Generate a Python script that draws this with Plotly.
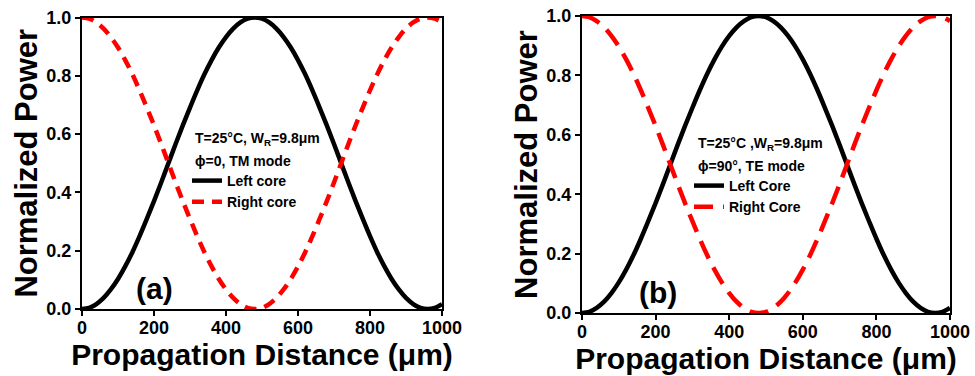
import plotly.graph_objects as go

# Propagation distance (um)
distance = [0, 20, 40, 60, 80, 100, 120, 140, 160, 180, 200, 220, 240, 260, 280, 300,
            320, 340, 360, 380, 400, 420, 440, 460, 480, 500, 520, 540, 560, 580, 600,
            620, 640, 660, 680, 700, 720, 740, 760, 780, 800, 820, 840, 860, 880, 900,
            920, 940, 960, 980, 1000]

# Panel (a): TM mode
left_a = [0.0, 0.004, 0.017, 0.038, 0.067, 0.103, 0.146, 0.195, 0.25, 0.309, 0.37, 0.434,
          0.5, 0.566, 0.63, 0.691, 0.75, 0.805, 0.854, 0.897, 0.933, 0.962, 0.983, 0.996,
          1.0, 0.996, 0.983, 0.962, 0.933, 0.897, 0.854, 0.805, 0.75, 0.691, 0.63, 0.566,
          0.5, 0.434, 0.37, 0.309, 0.25, 0.195, 0.146, 0.103, 0.067, 0.038, 0.017, 0.004,
          0.0, 0.004, 0.017]
right_a = [1.0, 0.996, 0.983, 0.962, 0.933, 0.897, 0.854, 0.805, 0.75, 0.691, 0.63, 0.566,
           0.5, 0.434, 0.37, 0.309, 0.25, 0.195, 0.146, 0.103, 0.067, 0.038, 0.017, 0.004,
           0.0, 0.004, 0.017, 0.038, 0.067, 0.103, 0.146, 0.195, 0.25, 0.309, 0.37, 0.434,
           0.5, 0.566, 0.63, 0.691, 0.75, 0.805, 0.854, 0.897, 0.933, 0.962, 0.983, 0.996,
           1.0, 0.996, 0.983]

# Panel (b): TE mode
left_b = [0.0, 0.004, 0.017, 0.038, 0.067, 0.103, 0.146, 0.195, 0.25, 0.309, 0.37, 0.434,
          0.5, 0.566, 0.63, 0.691, 0.75, 0.805, 0.854, 0.897, 0.933, 0.962, 0.983, 0.996,
          1.0, 0.996, 0.983, 0.962, 0.933, 0.897, 0.854, 0.805, 0.75, 0.691, 0.63, 0.566,
          0.5, 0.434, 0.37, 0.309, 0.25, 0.195, 0.146, 0.103, 0.067, 0.038, 0.017, 0.004,
          0.0, 0.004, 0.017]
right_b = [1.0, 0.996, 0.983, 0.962, 0.933, 0.897, 0.854, 0.805, 0.75, 0.691, 0.63, 0.566,
           0.5, 0.434, 0.37, 0.309, 0.25, 0.195, 0.146, 0.103, 0.067, 0.038, 0.017, 0.004,
           0.0, 0.004, 0.017, 0.038, 0.067, 0.103, 0.146, 0.195, 0.25, 0.309, 0.37, 0.434,
           0.5, 0.566, 0.63, 0.691, 0.75, 0.805, 0.854, 0.897, 0.933, 0.962, 0.983, 0.996,
           1.0, 0.996, 0.983]

x_ticks = [0, 200, 400, 600, 800, 1000]
y_ticks = [0.0, 0.2, 0.4, 0.6, 0.8, 1.0]

FONT = "Liberation Sans, Arial, sans-serif"
W, H = 975, 376

fig = go.Figure()

fig.add_trace(go.Scatter(x=distance, y=left_a, mode="lines", name="Left core",
                         line=dict(color="black", width=4.5, shape="spline"),
                         xaxis="x", yaxis="y", legend="legend"))
fig.add_trace(go.Scatter(x=distance, y=right_a, mode="lines", name="Right core",
                         line=dict(color="#ff0000", width=4.5, shape="spline", dash="12px,8px"),
                         xaxis="x", yaxis="y", legend="legend"))
fig.add_trace(go.Scatter(x=distance, y=left_b, mode="lines", name="Left Core",
                         line=dict(color="black", width=4.5, shape="spline"),
                         xaxis="x2", yaxis="y2", legend="legend2"))
fig.add_trace(go.Scatter(x=distance, y=right_b, mode="lines", name="Right Core",
                         line=dict(color="#ff0000", width=4.5, shape="spline", dash="19px,10px"),
                         xaxis="x2", yaxis="y2", legend="legend2"))

def xax(domain, anchor):
    return dict(domain=domain, anchor=anchor, range=[0, 1000], tickvals=x_ticks,
                ticks="outside", ticklen=5, tickwidth=2, tickcolor="black",
                ticklabelstandoff=-4,
                showline=True, linewidth=2, linecolor="black", mirror=True,
                showgrid=False, zeroline=False, automargin=False,
                tickfont=dict(family=FONT, size=18, color="black", weight="bold"),
                title=dict(text="Propagation Distance (μm)", standoff=0,
                           font=dict(family=FONT, size=30, color="black", weight="bold")))

def yax(domain, anchor):
    return dict(domain=domain, anchor=anchor, range=[0, 1], tickvals=y_ticks,
                tickformat=".1f",
                ticks="outside", ticklen=5, tickwidth=2, tickcolor="black",
                showline=True, linewidth=2, linecolor="black", mirror=True,
                showgrid=False, zeroline=False, automargin=False,
                tickfont=dict(family=FONT, size=18, color="black", weight="bold"),
                title=dict(text="Normalized Power", standoff=0,
                           font=dict(family=FONT, size=31, color="black", weight="bold")))

xa_dom = [82 / W, 442 / W]
xb_dom = [582 / W, 950 / W]
ya_dom = [1 - 309 / H, 1 - 17.5 / H]
yb_dom = [1 - 313 / H, 1 - 16 / H]

leg_font = dict(family=FONT, size=14, color="black", weight="bold")

fig.update_layout(
    width=W, height=H,
    margin=dict(l=0, r=0, t=0, b=0, autoexpand=False),
    paper_bgcolor="white", plot_bgcolor="white",
    showlegend=True,
    xaxis=xax(xa_dom, "y"),
    yaxis=yax(ya_dom, "x"),
    xaxis2=xax(xb_dom, "y2"),
    yaxis2=yax(yb_dom, "x2"),
    legend=dict(x=187 / W, y=1 - 165 / H, xanchor="left", yanchor="top",
                bgcolor="rgba(0,0,0,0)", font=leg_font, itemwidth=30,
                tracegroupgap=0),
    legend2=dict(x=689 / W, y=1 - 170 / H, xanchor="left", yanchor="top",
                 bgcolor="rgba(0,0,0,0)", font=leg_font, itemwidth=30,
                 tracegroupgap=0),
)

ann_font = dict(family=FONT, size=14, color="black", weight="bold")
annotations = [
    dict(text="T=25°C, W<sub>R</sub>=9.8μm", x=193 / W, y=1 - 139 / H),
    dict(text="ϕ=0, TM mode", x=193 / W, y=1 - 161 / H),
    dict(text="T=25°C ,W<sub>R</sub>=9.8μm", x=696 / W, y=1 - 144 / H),
    dict(text="ϕ=90°, TE mode", x=696 / W, y=1 - 166 / H),
]
for a in annotations:
    fig.add_annotation(xref="paper", yref="paper", xanchor="left", yanchor="middle",
                       showarrow=False, font=ann_font, **a)

fig.add_annotation(text="(a)", xref="paper", yref="paper", x=134 / W, y=1 - 288 / H,
                   xanchor="left", yanchor="middle", showarrow=False,
                   font=dict(family=FONT, size=30, color="black", weight="bold"))
fig.add_annotation(text="(b)", xref="paper", yref="paper", x=637 / W, y=1 - 292 / H,
                   xanchor="left", yanchor="middle", showarrow=False,
                   font=dict(family=FONT, size=30, color="black", weight="bold"))

fig.write_html(
    "out.html",
    config={"displayModeBar": False},
    post_script="document.body.style.margin='0';document.body.style.overflow='hidden';",
)
